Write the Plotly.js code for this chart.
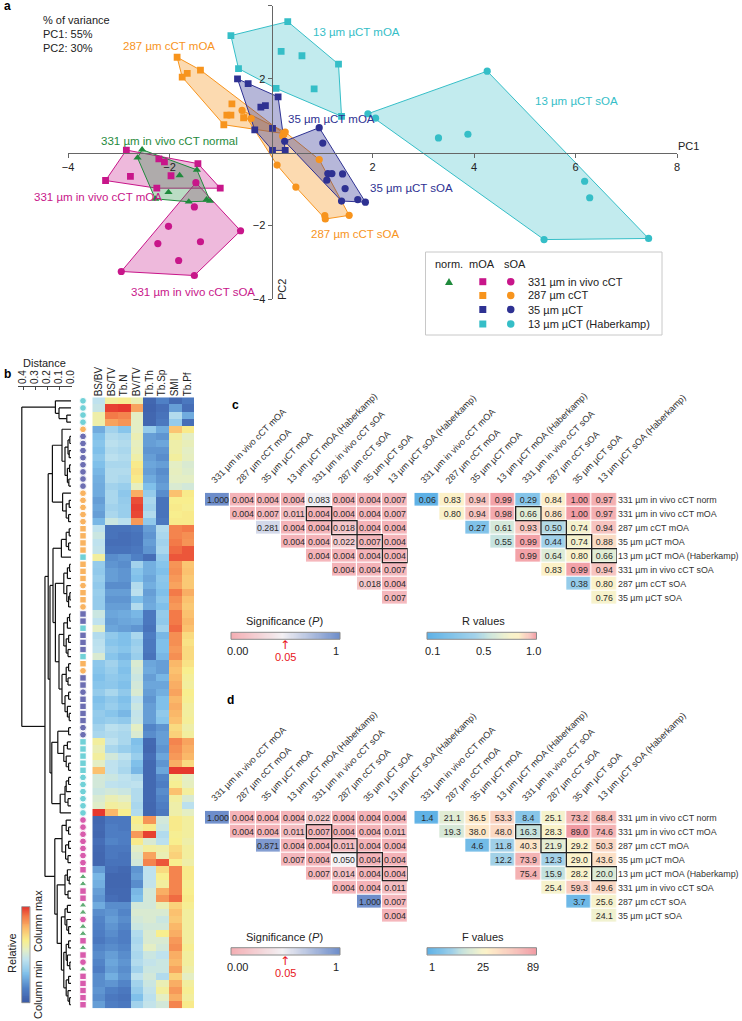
<!DOCTYPE html>
<html><head><meta charset="utf-8">
<script src="https://cdn.plot.ly/plotly-3.0.1.min.js"></script>
<style>html,body{margin:0;padding:0;background:#fff}</style>
</head><body><div id="chart" style="width:742px;height:1021px"></div>
<script>
// ---------------- Panel a: PCA scores ----------------
const norm331X = [-2.54,-2.63,-1.80,-1.46,-2.02,-2.28,-1.62,-1.27,-1.20];
const norm331Y = [0.07,-0.15,-0.63,-0.48,-1.09,-1.27,-1.35,-1.29,-1.33];
const mOA331X = [-2.85,-3.26,-2.77,-2.21,-2.10,-1.97,-1.44,-1.00,-2.25];
const mOA331Y = [0.06,-0.77,-0.66,-0.18,-0.26,-0.64,-0.31,-0.98,-0.98];
const sOA331X = [-1.48,-1.51,-2.02,-2.23,-1.39,-1.82,-2.95,-1.51,-0.60];
const sOA331Y = [-0.83,-1.49,-2.02,-2.49,-2.44,-2.95,-3.25,-3.36,-2.14];
const mOA287X = [-1.85,-1.65,-1.75,-1.39,-0.77,-0.87,-0.79,-0.54,-0.93,0.25];
const mOA287Y = [2.59,2.15,2.05,2.24,1.32,1.01,1.01,0.94,0.75,0.51];
const sOA287X = [-0.57,-0.39,0.23,0.28,0.95,0.12,0.49,1.06,1.07,1.54];
const sOA287Y = [1.14,0.92,0.44,0.55,-0.20,-0.35,-0.95,-1.73,-1.82,-1.72];
const mOA35X = [-0.66,-0.45,0.14,-0.20,-0.11,-0.32,0.03,0.03,0.28];
const mOA35Y = [2.00,1.87,1.51,1.23,1.27,0.61,0.65,0.05,0.05];
const sOA35X = [0.95,1.02,1.12,1.20,1.10,1.41,1.46,1.39,1.71,1.86,0.27];
const sOA35Y = [0.67,0.25,-0.58,-0.58,-0.76,-0.59,-0.99,-1.33,-1.29,-1.36,0.30];
const mOA13X = [-0.79,0.33,1.33,1.39,0.10,-0.64,0.20,0.61,0.85];
const mOA13Y = [3.18,3.56,2.40,0.98,1.74,2.28,2.75,2.63,1.73];
const sOA13X = [1.91,2.06,4.26,3.30,3.88,6.18,6.28,5.38,7.44];
const sOA13Y = [1.05,0.93,2.21,0.39,0.49,-0.79,-1.24,-2.38,-2.35];

// ---------------- Panel b: heatmap columns (relative, column-normalised) ----------------
const hmColumns = ['BS/BV','BS/TV','Tb.N','BV/TV','Tb.Th','Tb.Sp','SMI','Tb.Pf'];
const colBSBV = [.45,.47,.60,.60, .25,.30,.32,.30,.33,.30,.28,.26,.25, .25,.22,.24,.22,.28, .45,.48,.45,.46,.62, .35,.34,.36,.34,.36,.35,.35, .48,.45,.55,.42,.44,.45,.52, .33,.32,.30,.32,.35,.30,.32,.35,.34, .38,.40, .62,.58,.62,.55,.76, .50,.50,.48,.52,.54,.99, .05,.06,.05,.08,.06,.05,.05, .22,.28,.26,.22,.20,.25,.18,.16,.15,.14,.12,.16,.18,.16,.14,.18,.18,.20,.18,.22];
const colBSTV = [.62,.98,.90,.82, .38,.42,.44,.42,.44,.40,.42,.42,.38, .40,.40,.38,.40,.48, .10,.10,.08,.10,.18, .20,.22,.22,.18,.22,.20,.22, .24,.22,.24,.34,.32,.35,.32, .38,.36,.34,.33,.40,.34,.36,.32,.36, .44,.42, .45,.40,.50,.45,.45, .48,.45,.50,.58,.62,.78, .12,.14,.14,.16,.12,.12,.10, .08,.05,.05,.06,.08,.18,.20,.22,.20,.18,.16,.18,.22,.24,.22,.26,.20,.15,.12,.14];
const colTbN = [.64,.99,.88,.85, .32,.40,.42,.40,.42,.40,.42,.40,.36, .33,.35,.36,.36,.44, .10,.08,.08,.10,.20, .18,.20,.20,.18,.22,.20,.22, .25,.24,.22,.30,.30,.32,.28, .32,.30,.32,.30,.34,.30,.32,.28,.34, .42,.40, .40,.36,.45,.42,.40, .45,.44,.48,.55,.60,.65, .12,.12,.14,.14,.12,.10,.10, .06,.05,.05,.06,.06,.18,.16,.18,.16,.14,.14,.16,.18,.20,.18,.20,.16,.12,.10,.12];
const colBVTV = [.58,.82,.55,.55, .55,.58,.56,.57,.60,.66,.68,.66,.56, .80,.96,.98,.97,.84, .12,.10,.10,.12,.15, .38,.32,.30,.42,.44,.30,.42, .28,.25,.20,.40,.36,.38,.36, .52,.50,.48,.50,.52,.45,.48,.46,.47, .55,.52, .30,.32,.36,.30,.28, .42,.45,.42,.42,.40,.42, .65,.62,.84,.66,.55,.52,.50, .20,.22,.18,.28,.30,.50,.52,.50,.48,.42,.40,.42,.40,.42,.38,.45,.38,.35,.30,.38];
const colTbTh = [.05,.04,.05,.05, .35,.22,.22,.20,.22,.24,.22,.25,.30, .35,.40,.38,.42,.34, .22,.20,.22,.20,.08, .26,.26,.24,.26,.22,.24,.25, .12,.12,.10,.14,.12,.12,.10, .24,.25,.22,.24,.22,.20,.22,.22,.22, .16,.18, .06,.05,.08,.06,.06, .06,.06,.06,.06,.05,.05, .85,.66,.98,.52,.62,.82,.88, .45,.45,.46,.50,.50,.50,.52,.52,.50,.52,.52,.55,.48,.46,.48,.50,.48,.46,.44,.46];
const colTbSp = [.15,.08,.10,.12, .25,.20,.24,.20,.18,.22,.18,.20,.22, .18,.10,.10,.10,.12, .42,.40,.38,.40,.35, .32,.30,.33,.32,.30,.33,.30, .35,.34,.38,.28,.30,.30,.28, .22,.22,.28,.24,.26,.30,.30,.34,.32, .20,.22, .22,.20,.24,.20,.24, .16,.14,.18,.16,.14,.12, .50,.48,.42,.44,.60,.58,.95, .70,.65,.62,.80,.85,.58,.52,.48,.50,.65,.52,.50,.45,.48,.48,.42,.58,.62,.55,.50];
const colSMI = [.06,.22,.42,.35, .75,.62,.60,.60,.62,.55,.56,.55,.52, .76,.65,.66,.65,.66, .88,.88,.90,.92,.95, .85,.86,.84,.82,.90,.86,.84, .90,.90,.92,.86,.86,.84,.86, .78,.76,.78,.80,.82,.78,.80,.78,.76, .70,.72, .88,.86,.84,.80,.99, .62,.64,.76,.62,.60,.60, .66,.66,.64,.65,.70,.72,.65, .88,.88,.88,.88,.92,.72,.76,.74,.78,.80,.84,.86,.80,.78,.82,.72,.80,.84,.80,.88];
const colTbPf = [.12,.08,.25,.08, .66,.55,.57,.55,.56,.52,.53,.55,.50, .66,.65,.64,.66,.66, .90,.86,.85,.95,.95, .75,.76,.74,.74,.80,.76,.74, .76,.78,.76,.70,.68,.70,.70, .68,.65,.63,.62,.65,.64,.62,.62,.63, .60,.62, .82,.80,.78,.70,.99, .55,.56,.62,.52,.44,.55, .62,.62,.62,.60,.62,.62,.60, .66,.66,.64,.65,.66,.64,.62,.62,.62,.62,.62,.64,.62,.62,.60,.55,.62,.64,.62,.66];
// sample group of each heatmap row (cs = 13µm sOA, cm = 13µm mOA, o = 287, b = 35, m = 331 in vivo, gn = normal)
const rowGroups = ['cs','cs','cs','cs','os','bs','bs','bs','bs','bs','bs','bs','bs','os','os','os','os','os','om','om','om','om','cm','om','om','om','os','om','om','os','bm','bm','cm','bm','bm','bm','cm','om','os','bm','bm','bs','bm','bm','bm','bm','bs','bs','cm','cm','cm','cm','cm','cs','cs','cs','cs','cs','cs','ms','ms','ms','ms','ms','ms','ms','mm','gn','gn','mm','mm','gn','gn','ms','gn','gn','mm','gn','mm','ms','gn','mm','mm','mm','mm','mm'];
// dendrogram linkage: [distance, left, right]; leaves are row numbers
const treeA = [0.13, 1, [0.10, 2, [0.035, 3, 4]]];
const treeB1a = [0.155, [0.075, 5, [0.05, [0.025,[0.01,6,7],[0.015,8,9]], [0.03,[0.012,10,11],[0.018,12,13]]]], [0.07, 14, [0.04, [0.015,15,16], [0.02,17,18]]]];
const treeB1b1 = [0.15, [0.08, [0.04, [0.015,19,20], [0.02,21,22]], 23], [0.13, [0.06, [0.03,[0.012,24,25],26], [0.035, 27, [0.02,[0.01,28,29],30]]], [0.10, [0.06, [0.03,[0.012,31,32],33], [0.04,[0.02,34,35],[0.025,36,37]]], [0.075, [0.04,[0.02,38,39],[0.025,40,41]], [0.05,[0.02,42,43],[0.03,44,[0.015,45,46]]]]]]];
const treeB1b2 = [0.16, [0.11, [0.02,47,48], [0.06,[0.03,49,50],[0.04,51,[0.02,52,53]]]], [0.09, [0.05,[0.04,[0.02,54,55],56],[0.025,57,58]], 59]];
const treeM1 = [0.075, [0.04, 60, [0.02,61,62]], [0.045,[0.02,63,64],[0.025,65,66]]];
const treeM2 = [0.115, [0.05,[0.03,67,[0.015,68,69]],[0.025,70,71]], [0.08, [0.05,[0.03,72,73],[0.035,74,[0.02,75,76]]], [0.06, [0.04,[0.02,77,78],[0.03,79,[0.01,80,81]]], [0.04,[0.02,82,83],[0.025,84,[0.012,85,86]]]]]];
const treeRoot = [0.41, treeA, [0.217, [0.19, treeB1a, [0.175, treeB1b1, treeB1b2]], [0.135, treeM1, treeM2]]];
const distTicks = [0.4,0.3,0.2,0.1,0.0];

// ---------------- Panels c, d: pairwise tests ----------------
const pairCols = ['331 µm in vivo cCT mOA','287 µm cCT mOA','35 µm µCT mOA','13 µm µCT mOA (Haberkamp)','331 µm in vivo cCT sOA','287 µm cCT sOA','35 µm µCT sOA','13 µm µCT sOA (Haberkamp)'];
const pairRows = ['331 µm in vivo cCT norm','331 µm in vivo cCT mOA','287 µm cCT mOA','35 µm µCT mOA','13 µm µCT mOA (Haberkamp)','331 µm in vivo cCT sOA','287 µm cCT sOA','35 µm µCT sOA'];
const N = null;
const cP = [
 [1.000,0.004,0.004,0.004,0.083,0.004,0.004,0.007],
 [N,0.004,0.007,0.011,0.004,0.004,0.004,0.007],
 [N,N,0.281,0.004,0.004,0.018,0.004,0.004],
 [N,N,N,0.004,0.004,0.022,0.007,0.004],
 [N,N,N,N,0.004,0.004,0.004,0.004],
 [N,N,N,N,N,0.004,0.004,0.007],
 [N,N,N,N,N,N,0.018,0.004],
 [N,N,N,N,N,N,N,0.007]];
const cR = [
 [0.06,0.83,0.94,0.99,0.29,0.84,1.00,0.97],
 [N,0.80,0.94,0.98,0.66,0.86,1.00,0.97],
 [N,N,0.27,0.61,0.93,0.50,0.74,0.94],
 [N,N,N,0.55,0.99,0.44,0.74,0.88],
 [N,N,N,N,0.99,0.64,0.80,0.66],
 [N,N,N,N,N,0.83,0.99,0.94],
 [N,N,N,N,N,N,0.38,0.80],
 [N,N,N,N,N,N,N,0.76]];
const dP = [
 [1.000,0.004,0.004,0.004,0.022,0.004,0.004,0.004],
 [N,0.004,0.004,0.011,0.007,0.004,0.004,0.011],
 [N,N,0.871,0.004,0.004,0.011,0.004,0.004],
 [N,N,N,0.007,0.004,0.050,0.004,0.004],
 [N,N,N,N,0.007,0.014,0.004,0.004],
 [N,N,N,N,N,0.004,0.004,0.011],
 [N,N,N,N,N,N,1.000,0.007],
 [N,N,N,N,N,N,N,0.004]];
const dF = [
 [1.4,21.1,36.5,53.3,8.4,25.1,73.2,68.4],
 [N,19.3,38.0,48.0,16.3,28.3,89.0,74.6],
 [N,N,4.6,11.8,40.3,21.9,29.2,50.3],
 [N,N,N,12.2,73.9,12.3,29.0,43.6],
 [N,N,N,N,75.4,15.9,28.2,20.0],
 [N,N,N,N,N,25.4,59.3,49.6],
 [N,N,N,N,N,N,3.7,25.6],
 [N,N,N,N,N,N,N,24.1]];
const boxedCells = [[1,4],[2,5],[3,6],[4,7]];

// ================= drawing =================
const W = 742, H = 1021;
const px = x => x / W, py = y => 1 - y / H;
const dom = (a, b) => [px(a), px(b)];
const vdom = (t, b) => [py(b), py(t)];
const COL = {c:'#35bec7', o:'#f7941d', b:'#2e3192', m:'#c8168a', g:'#1f8a3c'};
const rgba = (hex, a) => { const n = parseInt(hex.slice(1), 16); return `rgba(${n>>16},${(n>>8)&255},${n&255},${a})`; };
const FONT = 'Liberation Sans, Arial, sans-serif';

const traces = [], shapes = [], annotations = [];
const ann = (text, x, y, o) => annotations.push(Object.assign({text, x:px(x), y:py(y), xref:'paper', yref:'paper', showarrow:false, xanchor:'left', yanchor:'middle', font:{size:11, color:'#222'}}, o || {}));

function hull(xs, ys) {
  const pts = xs.map((x,i)=>[x,ys[i]]).sort((a,b)=>a[0]-b[0]||a[1]-b[1]);
  const cr = (o,a,b)=>(a[0]-o[0])*(b[1]-o[1])-(a[1]-o[1])*(b[0]-o[0]);
  const lo=[], up=[];
  for (const p of pts){ while(lo.length>=2 && cr(lo[lo.length-2],lo[lo.length-1],p)<=0) lo.pop(); lo.push(p); }
  for (let i=pts.length-1;i>=0;i--){ const p=pts[i]; while(up.length>=2 && cr(up[up.length-2],up[up.length-1],p)<=0) up.pop(); up.push(p); }
  lo.pop(); up.pop(); const h = lo.concat(up); h.push(h[0]); return h;
}

const groupsA = [
  {x:sOA13X, y:sOA13Y, c:COL.c, s:'circle', a:0.3},
  {x:mOA13X, y:mOA13Y, c:COL.c, s:'square', a:0.3},
  {x:mOA287X, y:mOA287Y, c:COL.o, s:'square', a:0.35},
  {x:sOA287X, y:sOA287Y, c:COL.o, s:'circle', a:0.35},
  {x:mOA35X, y:mOA35Y, c:COL.b, s:'square', a:0.35},
  {x:sOA35X, y:sOA35Y, c:COL.b, s:'circle', a:0.35},
  {x:sOA331X, y:sOA331Y, c:COL.m, s:'circle', a:0.3},
  {x:mOA331X, y:mOA331Y, c:COL.m, s:'square', a:0.3},
  {x:norm331X, y:norm331Y, c:COL.g, s:'triangle-up', a:0.3}
];
groupsA.forEach(g => {
  const h = hull(g.x, g.y);
  traces.push({type:'scatter', mode:'lines', x:h.map(p=>p[0]), y:h.map(p=>p[1]), fill:'toself', fillcolor:rgba(g.c,g.a), line:{color:g.c, width:1}, xaxis:'x', yaxis:'y', hoverinfo:'skip'});
});
groupsA.forEach(g => {
  traces.push({type:'scatter', mode:'markers', x:g.x, y:g.y, marker:{symbol:g.s, color:g.c, size:g.s==='square'?6.8:7.2}, xaxis:'x', yaxis:'y', hoverinfo:'skip'});
});

// panel a text
ann('<b>a</b>', 2, 6, {font:{size:12,color:'#000'}});
ann('% of variance', 41, 20); ann('PC1: 55%', 41, 34); ann('PC2: 30%', 41, 48.5);
const gl = (t, x, y, c) => ann(t, x, y, {font:{size:11.5, color:c}});
gl('13 µm µCT mOA', 311, 31.5, COL.c);
gl('287 µm cCT mOA', 121, 45.5, COL.o);
gl('35 µm µCT mOA', 286, 118.5, COL.b);
gl('331 µm in vivo cCT normal', 99, 140.5, COL.g);
gl('331 µm in vivo cCT mOA', 32, 197, COL.m);
gl('331 µm in vivo cCT sOA', 129, 292, COL.m);
gl('287 µm cCT sOA', 309, 234.5, COL.o);
gl('35 µm µCT sOA', 368, 187.5, COL.b);
gl('13 µm µCT sOA', 533, 101.5, COL.c);
ann('PC1', 676, 146);
ann('PC2', 282, 290, {textangle:-90, xanchor:'center'});

// legend (panel a)
shapes.push({type:'rect', xref:'paper', yref:'paper', x0:px(425.5), x1:px(662), y0:py(252), y1:py(335), line:{color:'#c8c8c8', width:1}, fillcolor:'rgba(0,0,0,0)'});
ann('norm.', 432.5, 263.5); ann('mOA', 466.5, 263.5); ann('sOA', 501.5, 263.5);
const legRows = [[COL.m,'331 µm in vivo cCT',281.7],[COL.o,'287 µm cCT',295.5],[COL.b,'35 µm µCT',309.5],[COL.c,'13 µm µCT (Haberkamp)',324]];
legRows.forEach(r => {
  shapes.push({type:'rect', xref:'paper', yref:'paper', x0:px(479.3), x1:px(486.3), y0:py(r[2]+3.5), y1:py(r[2]-3.5), line:{width:0}, fillcolor:r[0]});
  shapes.push({type:'circle', xref:'paper', yref:'paper', x0:px(507), x1:px(514.5), y0:py(r[2]+3.7), y1:py(r[2]-3.7), line:{width:0}, fillcolor:r[0]});
  ann(r[1], 525.5, r[2]);
});
shapes.push({type:'path', xref:'paper', yref:'paper', path:`M ${px(445)} ${py(285)} L ${px(453)} ${py(285)} L ${px(449)} ${py(278)} Z`, fillcolor:COL.g, line:{width:0}});

// ---------------- panel b ----------------
const segX = [], segY = [];
function drawTree(node) {
  if (typeof node === 'number') return {y:node, h:0};
  const L = drawTree(node[1]), R = drawTree(node[2]), h = node[0];
  segX.push(L.h, h, null, R.h, h, null, h, h, null);
  segY.push(L.y, L.y, null, R.y, R.y, null, L.y, R.y, null);
  return {y:(L.y+R.y)/2, h};
}
drawTree(treeRoot);
traces.push({type:'scatter', mode:'lines', x:segX, y:segY, line:{color:'#111', width:1.2}, xaxis:'x2', yaxis:'y2', hoverinfo:'skip', connectgaps:false});

const rowIdx = rowGroups.map((_, i) => i + 1);
const gColor = {c:COL.c, o:COL.o, b:COL.b, m:COL.m, g:COL.g};
traces.push({type:'scatter', mode:'markers', x:rowGroups.map(()=>0.5), y:rowIdx,
  marker:{symbol:rowGroups.map(g => g==='gn' ? 'triangle-up' : (g[1]==='m' ? 'square' : 'circle')),
          color:rowGroups.map(g => gColor[g[0]]), size:rowGroups.map(g => g[1]==='m' ? 6.5 : 6.8)},
  xaxis:'x3', yaxis:'y2', hoverinfo:'skip'});

const hmCols = [colBSBV,colBSTV,colTbN,colBVTV,colTbTh,colTbSp,colSMI,colTbPf];
const hmZ = rowIdx.map((_, r) => hmCols.map(c => c[r]));
const relScale = [[0,'#3b5aa6'],[0.15,'#4f80c5'],[0.3,'#80c0ea'],[0.45,'#bfe2ee'],[0.55,'#e4eec4'],[0.65,'#f8ee8e'],[0.77,'#fbbd6c'],[0.9,'#f37a48'],[1,'#e4312b']];
traces.push({type:'heatmap', x:hmColumns.map((_,i)=>i), y:rowIdx, z:hmZ, zmin:0, zmax:1, colorscale:relScale, showscale:false, xaxis:'x4', yaxis:'y2', hoverinfo:'skip'});

// b colour bar
const ramp = []; for (let i = 0; i <= 100; i++) ramp.push(i / 100);
traces.push({type:'heatmap', x:[0], y:ramp, z:ramp.map(v=>[v]), zmin:0, zmax:1, colorscale:relScale, showscale:false, xaxis:'x5', yaxis:'y5', hoverinfo:'skip'});
shapes.push({type:'rect', xref:'paper', yref:'paper', x0:px(21.7), x1:px(30), y0:py(1002.7), y1:py(906.7), line:{color:'#888', width:0.8}});
ann('<b>b</b>', 2, 374, {font:{size:12,color:'#000'}});
ann('Distance', 44, 363, {xanchor:'center', font:{size:11,color:'#222'}});
ann('Relative', 12, 953, {textangle:-90, xanchor:'center'});
ann('Column max', 38, 921, {textangle:-90, xanchor:'center'});
ann('Column min', 38, 990, {textangle:-90, xanchor:'center'});

// ---------------- panels c & d ----------------
const pScale = [[0,'#f4aeb3'],[0.05,'#f3f0f3'],[1,'#6d8dca']];
const rScale = [[0,'#5eb1e6'],[0.222,'#86c5e9'],[0.389,'#a3d2ea'],[0.5,'#c6e3df'],[0.611,'#dfecd6'],[0.722,'#f6f2cc'],[0.811,'#fcf1c8'],[0.867,'#fbdcc4'],[0.933,'#f7c3bf'],[1,'#f29ca4']];
const fScale = [[0,'#5eb1e6'],[0.08,'#85c4e8'],[0.125,'#a0d0e8'],[0.17,'#c4e1de'],[0.227,'#e0ecd4'],[0.273,'#f5f2cc'],[0.33,'#fcf2c8'],[0.443,'#fde4c6'],[0.557,'#fad6c2'],[0.67,'#f8c9be'],[0.84,'#f4b2b3'],[1,'#f19aa2']];
const idx8 = [0,1,2,3,4,5,6,7];
const CW = 25.34;

function pairHeat(z, dec, scale, zmin, zmax, xa, ya, x0, top) {
  traces.push({type:'heatmap', x:idx8, y:idx8, z:z, zmin, zmax, colorscale:scale, showscale:false, xgap:1.2, ygap:1.2,
    text:z.map(r => r.map(v => v === null ? '' : v.toFixed(dec))), texttemplate:'%{text}', textfont:{size:8.8, color:'#2a2a2a', family:FONT},
    xaxis:xa, yaxis:ya, hoverinfo:'skip'});
  boxedCells.forEach(([r, c]) => shapes.push({type:'rect', xref:xa, yref:ya, x0:c-0.5, x1:c+0.5, y0:r-0.5, y1:r+0.5, line:{color:'#222', width:1.3}}));
  pairCols.forEach((t, j) => ann(t, x0 + (j + 0.5) * CW - 11.5, top - 4.5, {textangle:-45, xanchor:'left', yanchor:'bottom', font:{size:9.1, color:'#333'}}));
}
function interpRamp(stops) { // stops: [[barPos, value], ...]
  return ramp.map(p => { for (let i = 1; i < stops.length; i++) { if (p <= stops[i][0]) { const [p0,v0] = stops[i-1], [p1,v1] = stops[i]; return v0 + (v1-v0)*(p-p0)/(p1-p0); } } return stops[stops.length-1][1]; });
}
function bar(stops, scale, zmin, zmax, xa, ya, x0, x1, yTop, yBot) {
  traces.push({type:'heatmap', x:ramp, y:[0], z:[interpRamp(stops)], zmin, zmax, colorscale:scale, showscale:false, xaxis:xa, yaxis:ya, hoverinfo:'skip'});
  shapes.push({type:'rect', xref:'paper', yref:'paper', x0:px(x0), x1:px(x1), y0:py(yBot), y1:py(yTop), line:{color:'#8a8a8a', width:1}});
}
// c
pairHeat(cP, 3, pScale, 0, 1, 'x6', 'y6', 205, 492.7);
pairHeat(cR, 2, rScale, 0.1, 1, 'x7', 'y7', 414.3, 492.7);
bar([[0,0],[0.47,0.05],[1,1]], pScale, 0, 1, 'x8', 'y8', 231, 340, 632.3, 639.3);
bar([[0,0.1],[0.5,0.5],[1,1]], rScale, 0.1, 1, 'x9', 'y9', 427, 536.5, 632.3, 639.3);
// d
pairHeat(dP, 3, pScale, 0, 1, 'x10', 'y10', 205, 810.7);
pairHeat(dF, 1, fScale, 1, 89, 'x11', 'y11', 414.3, 810.7);
bar([[0,0],[0.47,0.05],[1,1]], pScale, 0, 1, 'x12', 'y12', 231, 340, 947.7, 955);
bar([[0,1],[0.5,25],[1,89]], fScale, 1, 89, 'x13', 'y13', 427, 536.5, 947.7, 955);

function barText(dy, rightTitle, rl) {
  ann('Significance (<i>P</i>)', 284, 620.7+dy, {xanchor:'center'});
  ann('0.00', 237, 651+dy, {xanchor:'center'});
  ann('1', 336, 651+dy, {xanchor:'center'});
  ann('↑', 285, 645+dy, {xanchor:'center', font:{size:12, color:'#e8141b', family:'DejaVu Sans'}});
  ann('0.05', 285, 656.5+dy, {xanchor:'center', font:{size:11, color:'#e8141b'}});
  ann(rightTitle, 483, 620.7+dy, {xanchor:'center'});
  ann(rl[0], 432, 651+dy, {xanchor:'center'});
  ann(rl[1], 483, 651+dy, {xanchor:'center'});
  ann(rl[2], 533, 651+dy, {xanchor:'center'});
}
barText(0, 'R values', ['0.1','0.5','1.0']);
barText(316, 'F values', ['1','25','89']);
ann('<b>c</b>', 230, 405, {font:{size:12,color:'#000'}});
ann('<b>d</b>', 225, 700, {font:{size:12,color:'#000'}});

// ---------------- layout ----------------
const hid = {visible:false, fixedrange:true, showgrid:false, zeroline:false};
const colAxis = (d, a) => ({domain:d, anchor:a, range:[-0.5,7.5], visible:false, fixedrange:true});
const rowAxis = (d, a, show) => ({domain:d, anchor:a, range:[7.5,-0.5], showgrid:false, zeroline:false, showline:false, ticks:'', fixedrange:true,
  showticklabels:show, side:'right', tickvals:idx8, ticktext:pairRows, tickfont:{size:8.9, color:'#333'}});
const layout = {
  width:W, height:H, margin:{l:0,r:0,t:0,b:0}, paper_bgcolor:'#fff', plot_bgcolor:'rgba(0,0,0,0)', showlegend:false,
  font:{family:FONT, size:11, color:'#222'},
  xaxis:{domain:dom(68,677), range:[-4,8], anchor:'free', position:py(152.5), tickvals:[-4,-2,2,4,6,8], ticks:'outside', ticklen:4, tickcolor:'#666', showline:true, linecolor:'#666', linewidth:1, showgrid:false, zeroline:false, tickfont:{size:11,color:'#222'}, fixedrange:true},
  yaxis:{domain:vdom(5.5,299), range:[-4,4], anchor:'free', position:px(271.5), tickvals:[-4,-2,2,4], ticks:'outside', ticklen:4, tickcolor:'#666', showline:true, linecolor:'#666', linewidth:1, showgrid:false, zeroline:false, tickfont:{size:11,color:'#222'}, fixedrange:true},
  xaxis2:{domain:dom(18,72), range:[0.4417,-0.0083], anchor:'free', position:py(386), side:'top', tickvals:distTicks, ticktext:['0.4','0.3','0.2','0.1','0.0'], tickangle:-90, ticks:'inside', ticklen:3, tickcolor:'#444', showline:true, linecolor:'#444', linewidth:1, showgrid:false, zeroline:false, tickfont:{size:10,color:'#222'}, fixedrange:true},
  yaxis2:Object.assign({domain:vdom(397.3,1008.3), range:[86.5,0.5], anchor:'x2'}, hid),
  xaxis3:Object.assign({domain:dom(78,88), range:[0,1], anchor:'y2'}, hid),
  xaxis4:{domain:dom(92.3,194), range:[-0.5,7.5], anchor:'y2', side:'top', tickvals:idx8, ticktext:hmColumns, tickangle:-90, ticks:'', showline:false, showgrid:false, zeroline:false, tickfont:{size:10,color:'#222'}, fixedrange:true},
  xaxis5:Object.assign({domain:dom(21.7,30), anchor:'y5'}, hid),
  yaxis5:Object.assign({domain:vdom(906.7,1002.7), range:[0,1], anchor:'x5'}, hid),
  xaxis6:colAxis(dom(205,407.7),'y6'), yaxis6:rowAxis(vdom(492.7,604.7),'x6',false),
  xaxis7:colAxis(dom(414.3,617),'y7'), yaxis7:rowAxis(vdom(492.7,604.7),'x7',true),
  xaxis8:Object.assign({domain:dom(231,340), range:[0,1], anchor:'y8'}, hid), yaxis8:Object.assign({domain:vdom(632.3,639.3), anchor:'x8'}, hid),
  xaxis9:Object.assign({domain:dom(427,536.5), range:[0,1], anchor:'y9'}, hid), yaxis9:Object.assign({domain:vdom(632.3,639.3), anchor:'x9'}, hid),
  xaxis10:colAxis(dom(205,407.7),'y10'), yaxis10:rowAxis(vdom(810.7,922.7),'x10',false),
  xaxis11:colAxis(dom(414.3,617),'y11'), yaxis11:rowAxis(vdom(810.7,922.7),'x11',true),
  xaxis12:Object.assign({domain:dom(231,340), range:[0,1], anchor:'y12'}, hid), yaxis12:Object.assign({domain:vdom(947.7,955), anchor:'x12'}, hid),
  xaxis13:Object.assign({domain:dom(427,536.5), range:[0,1], anchor:'y13'}, hid), yaxis13:Object.assign({domain:vdom(947.7,955), anchor:'x13'}, hid),
  shapes, annotations
};
Plotly.newPlot('chart', traces, layout, {staticPlot:true, displayModeBar:false});
</script></body></html>
